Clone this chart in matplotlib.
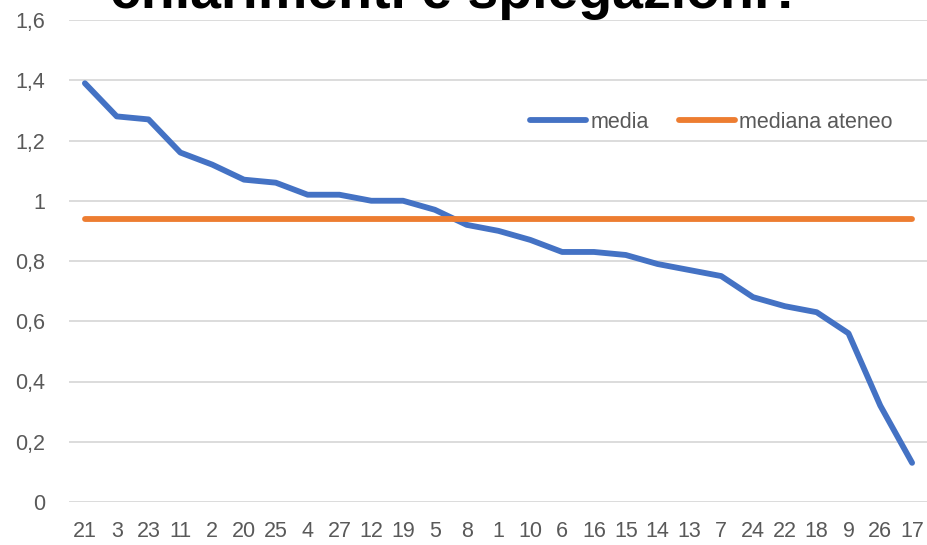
import matplotlib
matplotlib.use("Agg")
import matplotlib.pyplot as plt
from matplotlib.ticker import FuncFormatter

categories = ["21", "3", "23", "11", "2", "20", "25", "4", "27", "12", "19", "5", "8", "1",
              "10", "6", "16", "15", "14", "13", "7", "24", "22", "18", "9", "26", "17"]
media = [1.39, 1.28, 1.27, 1.16, 1.12, 1.07, 1.06, 1.02, 1.02, 1.00, 1.00, 0.97, 0.92, 0.90,
         0.87, 0.83, 0.83, 0.82, 0.79, 0.77, 0.75, 0.68, 0.65, 0.63, 0.56, 0.32, 0.13]
mediana_ateneo = [0.94] * len(categories)
title = "chiarimenti e spiegazioni?"

plt.rcParams['font.family'] = ['Liberation Sans', 'DejaVu Sans']

fig = plt.figure(figsize=(9.28, 5.45), dpi=100)
ax = fig.add_axes([69/928, 1 - 502/545, 1 - 69/928, (502 - 20)/545])

x = list(range(len(categories)))
ax.plot(x, media, color="#4472C4", lw=4.2, solid_capstyle="round", solid_joinstyle="round",
        label="media", zorder=3)
ax.plot(x, mediana_ateneo, color="#ED7D31", lw=4.2, solid_capstyle="round",
        label="mediana ateneo", zorder=3)

ax.set_xlim(-0.5, len(categories) - 0.5)
ax.set_ylim(0, 1.6)
ax.set_yticks([0, 0.2, 0.4, 0.6, 0.8, 1.0, 1.2, 1.4, 1.6])
ax.yaxis.set_major_formatter(FuncFormatter(
    lambda v, p: ("%g" % round(v, 1)).replace(".", ",")))
ax.set_xticks(x)
ax.set_xticklabels(categories)
ax.tick_params(axis="both", length=0, labelsize=15.5, labelcolor="#595959")
ax.tick_params(axis="y", pad=17)
ax.tick_params(axis="x", pad=14)
ax.grid(axis="y", color="#D9D9D9", lw=1.3)
ax.set_axisbelow(True)
for s in ax.spines.values():
    s.set_visible(False)

leg = ax.legend(loc="center left", bbox_to_anchor=((530 - 69) / (928 - 69), (502 - 122) / 482),
                ncol=2, frameon=False, fontsize=15.5, handlelength=2.6, handletextpad=0.2,
                columnspacing=1.4, borderaxespad=0, borderpad=0)
for t in leg.get_texts():
    t.set_color("#595959")

fig.text(110/928, 1 - 8/545, title, fontsize=40, color="black", ha="left", va="baseline",
         fontweight="bold")

fig.savefig("out.png", dpi=100)
